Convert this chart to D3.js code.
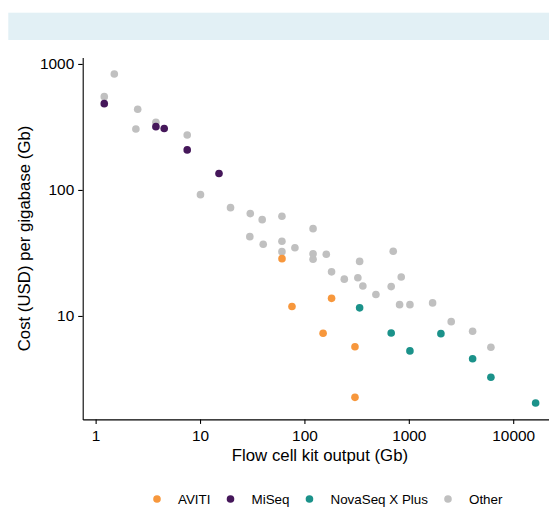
<!DOCTYPE html>
<html>
<head>
<meta charset="utf-8">
<script src="https://cdn.jsdelivr.net/npm/d3@7"></script>
<style>
  body { margin: 0; background: #fff; }
  svg { display: block; font-family: "Liberation Sans", Arial, Helvetica, sans-serif; }
  .tick text { fill: #000; }
</style>
</head>
<body>
<div id="wrapper"></div>
<script>
// series: flow cell kit output (Gb) and cost per Gb (USD)
const categories = ["AVITI", "MiSeq", "NovaSeq X Plus", "Other"];
const colors = ["#f7973c", "#45175a", "#1b928a", "#c0c0c0"];

const avitiOutput = [61, 76, 151, 182, 305, 305];
const avitiCost = [28.5, 11.9, 7.3, 13.8, 5.7, 2.26];

const miseqOutput = [1.21, 3.78, 4.54, 7.54, 15.2];
const miseqCost = [484, 318, 307, 208, 135];

const novaOutput = [338, 678, 1025, 2030, 4085, 6115, 16400];
const novaCost = [11.6, 7.33, 5.28, 7.24, 4.58, 3.26, 2.04];

const otherOutput = [
  1.51, 1.21, 2.53, 2.43, 3.78, 7.54, 10.1, 19.6, 30.3, 39.4, 60.9, 121,
  30.0, 40.3, 60.9, 60.9, 81.1, 121, 121, 162, 338, 182, 241, 325, 363,
  484, 709, 846, 678, 816, 1025, 1690, 2548, 4085, 6115,
];
const otherCost = [
  833, 550, 437, 305, 345, 273, 91.8, 72.4, 64.9, 58.1, 61.9, 49.3,
  42.6, 37.1, 39.2, 32.4, 34.8, 31.1, 28.2, 30.9, 27.1, 22.4, 19.6, 20.1, 17.3,
  14.8, 32.6, 20.4, 17.1, 12.3, 12.3, 12.7, 9.01, 7.56, 5.64,
];

const xTicks = [1, 10, 100, 1000, 10000];
const yTicks = [10, 100, 1000];

function drawScatter() {
  // 1. Access data
  const series = [
    { output: otherOutput, cost: otherCost },
    { output: avitiOutput, cost: avitiCost },
    { output: miseqOutput, cost: miseqCost },
    { output: novaOutput, cost: novaCost },
  ];
  const seriesCategory = ["Other", "AVITI", "MiSeq", "NovaSeq X Plus"];
  let dataset = [];
  series.forEach((s, i) => {
    s.output.forEach((o, j) => {
      dataset.push({ category: seriesCategory[i], output: o, cost: s.cost[j] });
    });
  });

  const xAccessor = (d) => d.output;
  const yAccessor = (d) => d.cost;
  const colorAccessor = (d) => d.category;

  // 2. Create dimensions
  let dimensions = {
    width: 549,
    height: 508,
    panel: { left: 82.7, right: 557.2, top: 57.5, bottom: 419.4 },
  };

  // 3. Draw canvas
  const wrapper = d3
    .select("#wrapper")
    .append("svg")
    .attr("width", dimensions.width)
    .attr("height", dimensions.height);

  wrapper
    .append("rect")
    .attr("x", 8.3)
    .attr("y", 12.7)
    .attr("width", dimensions.width - 8.3)
    .attr("height", 27.3)
    .attr("fill", "#e2f0f5");

  // log scales with ggplot-style 5% expansion
  const logExpand = (ext) => {
    const lo = Math.log10(ext[0]);
    const hi = Math.log10(ext[1]);
    const pad = (hi - lo) * 0.05;
    return [Math.pow(10, lo - pad), Math.pow(10, hi + pad)];
  };

  const xScale = d3
    .scaleLog()
    .domain(logExpand(d3.extent(dataset, xAccessor)))
    .range([dimensions.panel.left, dimensions.panel.right]);

  const yScale = d3
    .scaleLog()
    .domain(logExpand(d3.extent(dataset, yAccessor)))
    .range([dimensions.panel.bottom, dimensions.panel.top]);

  const colorScale = d3.scaleOrdinal().domain(categories).range(colors);

  const xAxisGenerator = d3
    .axisBottom(xScale)
    .tickValues(xTicks)
    .tickFormat(d3.format("d"))
    .tickSizeOuter(0)
    .tickSizeInner(4.5)
    .tickPadding(6);

  const xAxis = wrapper
    .append("g")
    .attr("transform", `translate(0, ${dimensions.panel.bottom})`)
    .call(xAxisGenerator);

  const yAxisGenerator = d3
    .axisLeft(yScale)
    .tickValues(yTicks)
    .tickFormat(d3.format("d"))
    .tickSizeOuter(0)
    .tickSizeInner(4.5)
    .tickPadding(4);

  const yAxis = wrapper
    .append("g")
    .attr("transform", `translate(${dimensions.panel.left}, 0)`)
    .call(yAxisGenerator);

  [xAxis, yAxis].forEach((ax) => {
    ax.selectAll(".domain").attr("stroke", "#000").attr("stroke-width", 1.1);
    ax.selectAll(".tick line").attr("stroke", "#000").attr("stroke-width", 1.1);
    ax.selectAll(".tick text").attr("font-size", 15.4).attr("font-family", null);
  });

  wrapper
    .append("g")
    .selectAll("circle")
    .data(dataset)
    .join("circle")
    .attr("cx", (d) => xScale(xAccessor(d)))
    .attr("cy", (d) => yScale(yAccessor(d)))
    .attr("r", 3.8)
    .attr("fill", (d) => colorScale(colorAccessor(d)));

  wrapper
    .append("text")
    .attr("x", (dimensions.panel.left + dimensions.panel.right) / 2)
    .attr("y", 461)
    .attr("text-anchor", "middle")
    .attr("font-size", 16.8)
    .text("Flow cell kit output (Gb)");

  wrapper
    .append("text")
    .attr(
      "transform",
      `translate(29.5, ${(dimensions.panel.top + dimensions.panel.bottom) / 2}) rotate(-90)`
    )
    .attr("text-anchor", "middle")
    .attr("font-size", 16.8)
    .text("Cost (USD) per gigabase (Gb)");

  // legend
  const legend = wrapper.append("g").attr("transform", "translate(157, 499)");
  let cursor = 0;
  categories.forEach((c) => {
    const item = legend.append("g").attr("transform", `translate(${cursor}, 0)`);
    item.append("circle").attr("r", 3.8).attr("fill", colorScale(c));
    const label = item
      .append("text")
      .attr("x", 21)
      .attr("y", 4.8)
      .attr("font-size", 13.4)
      .text(c);
    cursor += 21 + label.node().getComputedTextLength() + 20;
  });
}

drawScatter();
</script>
</body>
</html>
